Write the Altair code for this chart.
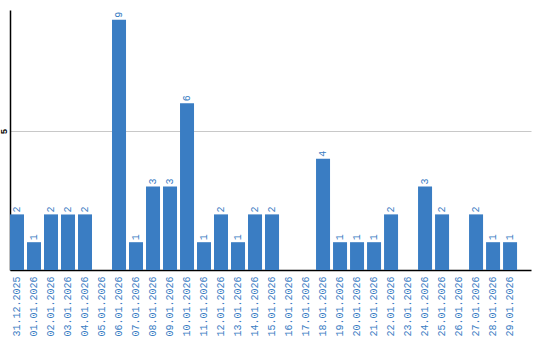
import altair as alt
import pandas as pd

dates = ["31.12.2025", "01.01.2026", "02.01.2026", "03.01.2026", "04.01.2026",
         "05.01.2026", "06.01.2026", "07.01.2026", "08.01.2026", "09.01.2026",
         "10.01.2026", "11.01.2026", "12.01.2026", "13.01.2026", "14.01.2026",
         "15.01.2026", "16.01.2026", "17.01.2026", "18.01.2026", "19.01.2026",
         "20.01.2026", "21.01.2026", "22.01.2026", "23.01.2026", "24.01.2026",
         "25.01.2026", "26.01.2026", "27.01.2026", "28.01.2026", "29.01.2026"]
counts = [2, 1, 2, 2, 2, 0, 9, 1, 3, 3, 6, 1, 2, 1, 2, 2, 0, 0, 4, 1, 1, 1, 2, 0, 3, 2, 0, 2, 1, 1]

df = pd.DataFrame({"date": dates, "count": counts})
BLUE = "#3a7dc3"
FONT = "Liberation Mono"

x = alt.X("date:N", sort=dates, title=None,
          scale=alt.Scale(paddingInner=0.176, paddingOuter=0.41, align=0),
          axis=alt.Axis(labelAngle=-90, labelColor=BLUE, labelFontSize=10,
                        labelFont=FONT, ticks=False, domainColor="black",
                        labelPadding=6, labelAlign="right", labelBaseline="middle"))
y = alt.Y("count:Q", title=None,
          scale=alt.Scale(domain=[0, 9.35], nice=False),
          axis=alt.Axis(values=[5], labelAngle=-90, labelFontSize=9, labelColor="black",
                        labelFontWeight="bold",
                        ticks=False, domainColor="black", gridColor="#c8c8c8",
                        labelPadding=2, labelAlign="center", labelBaseline="bottom",
                        labelFont=FONT))

bars = alt.Chart(df).mark_bar(color=BLUE).encode(x=x, y=y)
labels = alt.Chart(df).transform_filter("datum.count > 0").mark_text(
    angle=270, align="left", baseline="middle", dx=2, color=BLUE, fontSize=10,
    font=FONT).encode(x=alt.X("date:N", sort=dates), y="count:Q", text="count:Q")

chart = (bars + labels).properties(
    width=521, height=260,
    autosize=alt.AutoSizeParams(type="none"),
    padding={"left": 10, "top": 10, "right": 9, "bottom": 70},
).configure_view(stroke=None).configure_axis(domainWidth=1.5)

chart.save("out.html", embed_options={"renderer": "svg", "actions": False})
